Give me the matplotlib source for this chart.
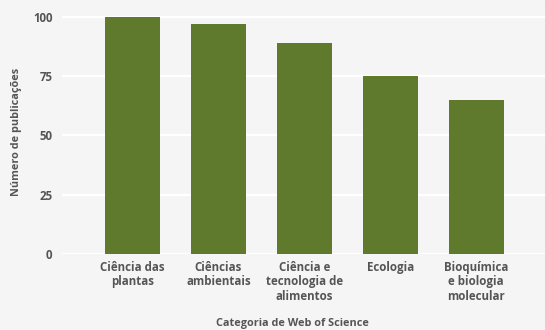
import matplotlib.pyplot as plt

# categorias e número de publicações
categorias = ["Ciência das\nplantas", "Ciências\nambientais", "Ciência e\ntecnologia de\nalimentos",
              "Ecologia", "Bioquímica\ne biologia\nmolecular"]
publicacoes = [100, 97, 89, 75, 65]
yticks = [0, 25, 50, 75, 100]

bg = "#f5f5f5"
verde = "#5f7a2c"
cinza = "#555555"

plt.rcParams['font.family'] = ['Open Sans', 'DejaVu Sans']
plt.rcParams['font.weight'] = 'bold'
fs = 8.3

fig = plt.figure(figsize=(5.45, 3.3), dpi=100, facecolor=bg)
ax = fig.add_axes([0.114, 0.2303, 0.886, 0.74])
ax.set_facecolor(bg)

x = range(len(categorias))
ax.bar(x, publicacoes, width=0.64, color=verde, zorder=3)

ax.set_xlim(-0.82, 4.8)
ax.set_ylim(0, 103)
ax.set_yticks(yticks)
ax.set_xticks(list(x))
ax.set_xticklabels(categorias, fontsize=fs, color=cinza, linespacing=1.15, va='top')
ax.tick_params(axis='y', labelsize=fs, labelcolor=cinza, length=0, pad=7)
ax.tick_params(axis='x', length=0, pad=5)
ax.grid(axis='y', color='white', linewidth=1.6, zorder=0)
for s in ax.spines.values():
    s.set_visible(False)

ax.set_ylabel("Número de publicações", fontsize=7.8, color=cinza, labelpad=8,
              fontweight='bold')
fig.text(0.537, 0.002, "Categoria de Web of Science", fontsize=7.8, color=cinza,
         ha='center', va='bottom', fontweight='bold')

fig.savefig("out.png", dpi=100, facecolor=bg)
